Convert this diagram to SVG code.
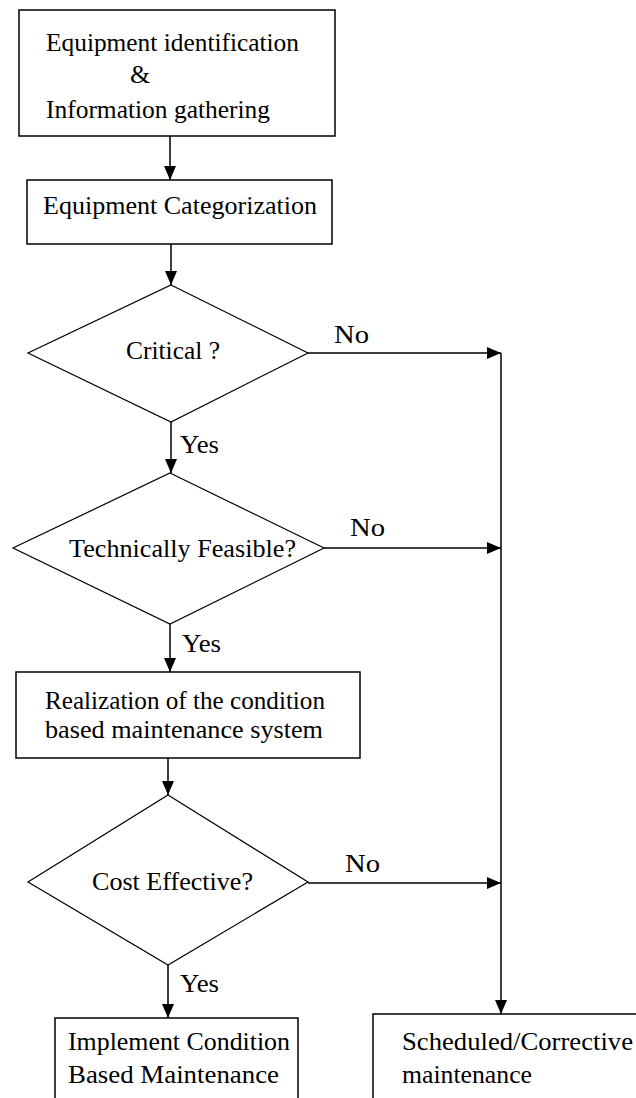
<svg xmlns="http://www.w3.org/2000/svg" width="636" height="1098" viewBox="0 0 636 1098">
  <style>
    .box { fill: #fff; stroke: #000; stroke-width: 1.5; }
    .dia { fill: #fff; stroke: #000; stroke-width: 1.2; }
    .line { fill: none; stroke: #000; stroke-width: 1.5; }
    text { font-family: "Liberation Serif", "Times New Roman", serif; font-size: 26px; fill: #000; }
  </style>
  <defs>
    <marker id="arrow" markerUnits="userSpaceOnUse" markerWidth="14" markerHeight="14" viewBox="0 0 14 14" refX="14" refY="7" orient="auto">
      <path d="M0,1 L14,7 L0,13 Z" fill="#000"/>
    </marker>
  </defs>
  <rect width="636" height="1098" fill="#fff"/>

  <!-- connectors and their Yes/No labels -->
  <g id="connectors">
    <line class="line" x1="170" y1="136" x2="170" y2="180" marker-end="url(#arrow)"/>
    <line class="line" x1="171" y1="244" x2="171" y2="285" marker-end="url(#arrow)"/>
    <line class="line" x1="171" y1="422" x2="171" y2="473" marker-end="url(#arrow)"/>
    <line class="line" x1="170" y1="624" x2="170" y2="672" marker-end="url(#arrow)"/>
    <line class="line" x1="168" y1="758" x2="168" y2="795" marker-end="url(#arrow)"/>
    <line class="line" x1="168" y1="965" x2="168" y2="1018" marker-end="url(#arrow)"/>
    <line class="line" x1="308" y1="353" x2="501" y2="353" marker-end="url(#arrow)"/>
    <line class="line" x1="324" y1="548" x2="501" y2="548" marker-end="url(#arrow)"/>
    <line class="line" x1="308" y1="883" x2="501" y2="883" marker-end="url(#arrow)"/>
    <line class="line" x1="501" y1="353" x2="501" y2="1014" marker-end="url(#arrow)"/>
    <text x="334" y="343" textLength="35" lengthAdjust="spacingAndGlyphs">No</text>
    <text x="180" y="453" textLength="39" lengthAdjust="spacingAndGlyphs">Yes</text>
    <text x="350" y="536" textLength="35" lengthAdjust="spacingAndGlyphs">No</text>
    <text x="182" y="652" textLength="39" lengthAdjust="spacingAndGlyphs">Yes</text>
    <text x="345" y="872" textLength="35" lengthAdjust="spacingAndGlyphs">No</text>
    <text x="180" y="992" textLength="39" lengthAdjust="spacingAndGlyphs">Yes</text>
  </g>

  <g id="identification">
    <rect class="box" x="19" y="10" width="316" height="126"/>
    <text x="46" y="51" textLength="253" lengthAdjust="spacingAndGlyphs">Equipment identification</text>
    <text x="130" y="83">&amp;</text>
    <text x="46" y="118" textLength="224" lengthAdjust="spacingAndGlyphs">Information gathering</text>
  </g>

  <g id="categorization">
    <rect class="box" x="27" y="180" width="305" height="64"/>
    <text x="43" y="214" textLength="274" lengthAdjust="spacingAndGlyphs">Equipment Categorization</text>
  </g>

  <g id="critical">
    <polygon class="dia" points="171,285 308,353 171,422 28,353"/>
    <text x="126" y="359" textLength="94" lengthAdjust="spacingAndGlyphs">Critical ?</text>
  </g>

  <g id="feasible">
    <polygon class="dia" points="170,473 324,548 170,624 13,548"/>
    <text x="69" y="557" textLength="227" lengthAdjust="spacingAndGlyphs">Technically Feasible?</text>
  </g>

  <g id="realization">
    <rect class="box" x="16" y="672" width="344" height="86"/>
    <text x="45" y="709" textLength="280" lengthAdjust="spacingAndGlyphs">Realization of the condition</text>
    <text x="45" y="738" textLength="278" lengthAdjust="spacingAndGlyphs">based maintenance system</text>
  </g>

  <g id="cost">
    <polygon class="dia" points="168,795 308,882 168,965 28,882"/>
    <text x="92" y="890" textLength="161" lengthAdjust="spacingAndGlyphs">Cost Effective?</text>
  </g>

  <g id="implement">
    <rect class="box" x="55" y="1018" width="243" height="100"/>
    <text x="68" y="1050" textLength="222" lengthAdjust="spacingAndGlyphs">Implement Condition</text>
    <text x="68" y="1083" textLength="211" lengthAdjust="spacingAndGlyphs">Based Maintenance</text>
  </g>

  <g id="scheduled">
    <rect class="box" x="373" y="1014" width="300" height="100"/>
    <text x="402" y="1050" textLength="231" lengthAdjust="spacingAndGlyphs">Scheduled/Corrective</text>
    <text x="402" y="1083" textLength="130" lengthAdjust="spacingAndGlyphs">maintenance</text>
  </g>
</svg>
